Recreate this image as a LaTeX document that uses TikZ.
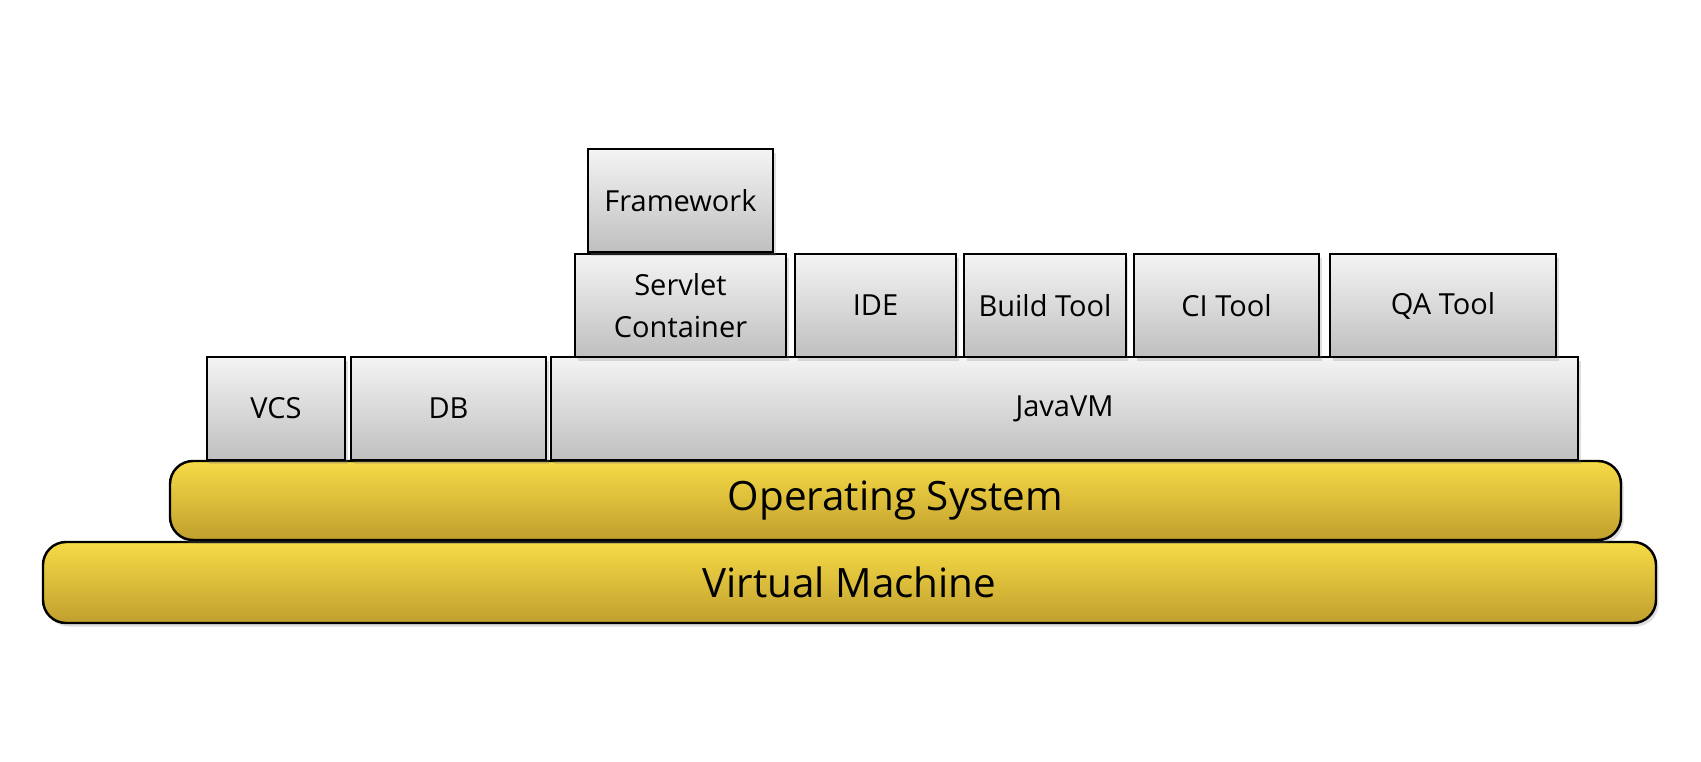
\documentclass[tikz,border=0pt]{standalone}
\usepackage{fontspec}
\setmainfont{Open Sans}
\usetikzlibrary{shadows}

\definecolor{boxtop}{HTML}{F4F4F4}
\definecolor{boxbottom}{HTML}{BFBFBF}
\definecolor{basetop}{HTML}{F6DB46}
\definecolor{basebottom}{HTML}{C19F2E}

\def\unitpx{0.02cm}

\begin{document}
\begin{tikzpicture}[x=0.02cm, y=-0.02cm]
        \tikzstyle{layer}=[rectangle, draw=black, line width=1.4pt, inner sep=0pt,
            top color=boxtop, bottom color=boxbottom, align=center,
            font=\fontsize{16.5}{24}\selectfont,
            drop shadow={opacity=0.25, shadow xshift=1.5pt, shadow yshift=-2pt}]
        \tikzstyle{base}=[layer, rounded corners=23*\unitpx, top color=basetop,
            bottom color=basebottom, font=\fontsize{23}{28}\selectfont]

        \fill[white] (0,0) rectangle (1701,761);
        \useasboundingbox (0,0) rectangle (1701,761);

        % Draw the base layers
        \node[base, minimum width=1613*\unitpx, minimum height=81*\unitpx] (VM) at (849.5,582.5) {Virtual Machine};
        \node[base, minimum width=1451*\unitpx, minimum height=79*\unitpx] (OS) at (895.5,500.5) {Operating System};

        % Draw the layer on top of the operating system
        \foreach \name / \x / \w / \txt in {VCS/276/138.5/VCS, DB/448.5/195/DB, JVM/1064.5/1027/JavaVM}
            \node[layer, minimum width=\w*\unitpx, minimum height=103*\unitpx] (\name) at (\x,408.5) {\txt};

        % Draw the tools on top of the JavaVM
        \foreach \name / \x / \w / \txt in {SC/680.5/211/Servlet\\Container, IDE/875.5/161/IDE,
                BT/1045/161.5/Build Tool, CI/1226.5/185/CI Tool, QA/1443/226/QA Tool}
            \node[layer, minimum width=\w*\unitpx, minimum height=103*\unitpx] (\name) at (\x,305.5) {\txt};

        % Framework sits on the servlet container
        \node[layer, minimum width=185*\unitpx, minimum height=103*\unitpx] (FW) at (680.5,200.5) {Framework};
\end{tikzpicture}
\end{document}
